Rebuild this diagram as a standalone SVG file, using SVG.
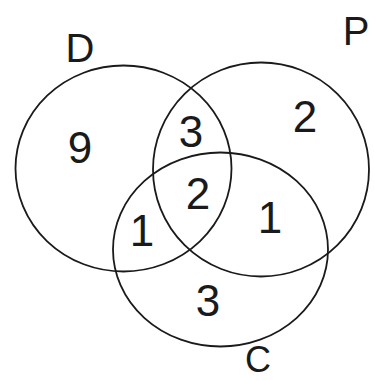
<svg xmlns="http://www.w3.org/2000/svg" width="374" height="381" viewBox="0 0 374 381">
<style>
.c{fill:none;stroke:#1a1a1a;stroke-width:1.8}
.t{font-family:"Liberation Sans","DejaVu Sans",sans-serif;font-size:44px;fill:#1a1a1a;text-anchor:middle}
.l{font-family:"Liberation Sans","DejaVu Sans",sans-serif;font-size:40px;fill:#1a1a1a;text-anchor:middle}
</style>
<rect width="374" height="381" fill="#ffffff"/>
<g id="D">
<ellipse class="c" cx="123.5" cy="168.5" rx="108" ry="103"/>
<text class="l" x="80" y="62">D</text>
<text class="t" x="80" y="163">9</text>
</g>
<g id="P">
<ellipse class="c" cx="261" cy="169.5" rx="108" ry="107"/>
<text class="l" x="356" y="45">P</text>
<text class="t" x="305" y="132">2</text>
</g>
<g id="C">
<ellipse class="c" cx="220.5" cy="249.5" rx="107.5" ry="97"/>
<text class="l" x="258" y="372" style="font-size:36px">C</text>
<text class="t" x="208" y="316">3</text>
</g>
<g id="regions">
<text class="t" x="191" y="147">3</text>
<text class="t" x="198" y="209">2</text>
<text class="t" x="142" y="246">1</text>
<text class="t" x="270" y="233">1</text>
</g>
<g id="connectors"></g>
</svg>
